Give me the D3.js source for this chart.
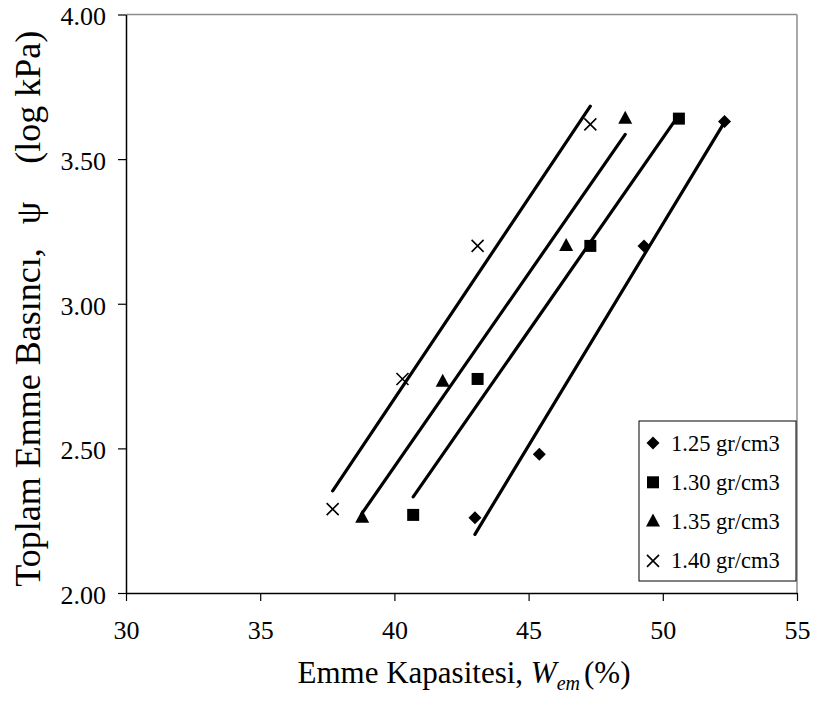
<!DOCTYPE html>
<html>
<head>
<meta charset="utf-8">
<script src="https://cdn.jsdelivr.net/npm/d3@7"></script>
<style>
  html, body { margin: 0; padding: 0; background: #fff; }
  svg { display: block; font-family: "Liberation Serif", "Times New Roman", serif; }
</style>
</head>
<body>
<svg id="chart" width="815" height="702"></svg>
<script>
// Emme kapasitesi (%) and toplam emme basıncı (log kPa) for each dry density
const seriesNames = ["1.25 gr/cm3", "1.30 gr/cm3", "1.35 gr/cm3", "1.40 gr/cm3"];
const w125 = [43.0, 45.4, 49.3, 52.3];
const psi125 = [2.26, 2.48, 3.20, 3.63];
const w130 = [40.7, 43.1, 47.3, 50.6];
const psi130 = [2.27, 2.74, 3.20, 3.64];
const w135 = [38.8, 41.8, 46.4, 48.6];
const psi135 = [2.26, 2.73, 3.20, 3.64];
const w140 = [37.7, 40.3, 43.1, 47.3];
const psi140 = [2.29, 2.74, 3.20, 3.62];

const xTicks = [30, 35, 40, 45, 50, 55];
const yTicks = [2.00, 2.50, 3.00, 3.50, 4.00];

const series = [
  { name: seriesNames[0], w: w125, psi: psi125, symbol: "diamond" },
  { name: seriesNames[1], w: w130, psi: psi130, symbol: "square" },
  { name: seriesNames[2], w: w135, psi: psi135, symbol: "triangle" },
  { name: seriesNames[3], w: w140, psi: psi140, symbol: "cross" }
];

const svg = d3.select("#chart");
const plotL = 126, plotR = 797, plotT = 14.5, plotB = 593;
const serif = '"Liberation Serif", "Times New Roman", serif';

const x = d3.scaleLinear().domain([30, 55]).range([plotL, plotR]);
const y = d3.scaleLinear().domain([2, 4]).range([plotB, plotT]);

// plot frame: grey top/right edges
svg.append("line").attr("x1", plotL).attr("x2", plotR).attr("y1", plotT).attr("y2", plotT)
  .attr("stroke", "#8c8c8c").attr("stroke-width", 1.5);
svg.append("line").attr("x1", plotR).attr("x2", plotR).attr("y1", plotT).attr("y2", plotB)
  .attr("stroke", "#8c8c8c").attr("stroke-width", 1.5);

// axes
const xAxis = d3.axisBottom(x).tickValues(xTicks).tickSize(8).tickSizeOuter(0).tickPadding(20)
  .tickFormat(d3.format("d"));
const yAxis = d3.axisLeft(y).tickValues(yTicks).tickSize(8).tickSizeOuter(0).tickPadding(12)
  .tickFormat(d3.format(".2f"));

const gx = svg.append("g").attr("transform", `translate(0,${plotB})`).call(xAxis);
const gy = svg.append("g").attr("transform", `translate(${plotL},0)`).call(yAxis);
[gx, gy].forEach(g => {
  g.attr("font-family", serif).attr("font-size", 26);
  g.select(".domain").attr("stroke", "#000").attr("stroke-width", 1.5);
  g.selectAll(".tick line").attr("stroke", "#000").attr("stroke-width", 1.2);
  g.selectAll(".tick text").attr("fill", "#000");
});
gy.selectAll(".tick text").attr("dy", "0.4em");

// least-squares trend line over each series' data range
function trend(ws, ps) {
  const mx = d3.mean(ws), my = d3.mean(ps);
  let sxy = 0, sxx = 0;
  ws.forEach((w, i) => { sxy += (w - mx) * (ps[i] - my); sxx += (w - mx) * (w - mx); });
  const b = sxy / sxx, a = my - b * mx;
  const [x0, x1] = d3.extent(ws);
  return [[x0, a + b * x0], [x1, a + b * x1]];
}

const lineGen = d3.line().x(d => x(d[0])).y(d => y(d[1]));
series.forEach(s => {
  svg.append("path").attr("d", lineGen(trend(s.w, s.psi)))
    .attr("fill", "none").attr("stroke", "#000").attr("stroke-width", 3.2)
    .attr("stroke-linecap", "round");
});

// marker shapes
function marker(g, type, cx, cy) {
  if (type === "diamond") {
    g.append("path").attr("d", `M${cx},${cy - 6.5}L${cx + 6.5},${cy}L${cx},${cy + 6.5}L${cx - 6.5},${cy}Z`)
      .attr("fill", "#000");
  } else if (type === "square") {
    g.append("rect").attr("x", cx - 6).attr("y", cy - 6).attr("width", 12).attr("height", 12)
      .attr("fill", "#000");
  } else if (type === "triangle") {
    g.append("path").attr("d", `M${cx},${cy - 8}L${cx + 7},${cy + 5}L${cx - 7},${cy + 5}Z`)
      .attr("fill", "#000");
  } else {
    g.append("path").attr("d", `M${cx - 6},${cy - 6}L${cx + 6},${cy + 6}M${cx + 6},${cy - 6}L${cx - 6},${cy + 6}`)
      .attr("stroke", "#000").attr("stroke-width", 1.6).attr("fill", "none");
  }
}

const gm = svg.append("g");
series.forEach(s => {
  s.w.forEach((w, i) => marker(gm, s.symbol, x(w), y(s.psi[i])));
});

// legend
const lg = svg.append("g");
lg.append("rect").attr("x", 639).attr("y", 421).attr("width", 157).attr("height", 160)
  .attr("fill", "#fff").attr("stroke", "#000").attr("stroke-width", 1);
series.forEach((s, i) => {
  const cy = 443 + i * 39.3;
  marker(lg, s.symbol, 653, cy);
  lg.append("text").attr("x", 671).attr("y", cy + 7.5).text(s.name)
    .attr("font-family", serif).attr("font-size", 22.5).attr("fill", "#000");
});

// axis titles
const xt = svg.append("text").attr("x", 464).attr("y", 683).attr("text-anchor", "middle")
  .attr("font-family", serif).attr("font-size", 31).attr("fill", "#000");
xt.append("tspan").text("Emme Kapasitesi, ");
xt.append("tspan").text("W").attr("font-style", "italic");
xt.append("tspan").text("em").attr("font-style", "italic").attr("font-size", 20).attr("dy", 7);
xt.append("tspan").text("(%)").attr("dy", -7).attr("dx", 4);

const yt = svg.append("text")
  .attr("transform", `translate(40,${(plotT + plotB) / 2 + 5}) rotate(-90)`)
  .attr("text-anchor", "middle").attr("font-family", serif).attr("font-size", 36).attr("fill", "#000");
yt.append("tspan").text("Toplam Emme Basıncı,");
yt.append("tspan").text("ψ").attr("dx", 24);
yt.append("tspan").text("(log kPa)").attr("dx", 38);
</script>
</body>
</html>
